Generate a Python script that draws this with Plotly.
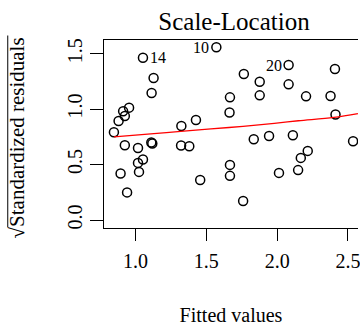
import plotly.graph_objects as go

# Data
fitted = [1.053, 1.571, 1.128, 1.114, 0.955, 0.913, 0.925, 0.881, 0.848, 1.324,
          1.427, 1.667, 1.664, 1.765, 1.877, 1.877, 2.081, 2.081, 2.204, 2.377,
          2.408, 2.412, 0.925, 1.018, 1.112, 1.119, 1.322, 1.380, 1.053, 1.018,
          1.025, 0.895, 0.941, 1.457, 1.667, 1.667, 1.835, 1.943, 2.111, 2.536,
          2.216, 2.167, 2.013, 2.148, 1.760]
sqrt_std_resid = [1.463, 1.558, 1.280, 1.145, 1.013, 0.980, 0.938, 0.893, 0.791, 0.848,
                  0.902, 1.106, 0.969, 1.316, 1.247, 1.124, 1.397, 1.223, 1.115, 1.118,
                  1.361, 0.951, 0.674, 0.650, 0.699, 0.690, 0.672, 0.665, 0.546, 0.515,
                  0.434, 0.420, 0.249, 0.360, 0.497, 0.398, 0.728, 0.758, 0.764, 0.710,
                  0.623, 0.560, 0.425, 0.450, 0.171]
smooth_x = [0.848, 1.13, 1.32, 1.66, 1.98, 2.15, 2.40, 2.57]
smooth_y = [0.749, 0.778, 0.800, 0.834, 0.872, 0.895, 0.925, 0.960]
label_idx = [0, 1, 16]
label_txt = ["14", "10", "20"]
label_side = ["right", "left", "left"]
x_ticks = [1.0, 1.5, 2.0, 2.5]
y_ticks = [0.0, 0.5, 1.0, 1.5]

FONT = "Liberation Serif"
W, H = 360, 326
L, R, T, B = 104, 0, 39.5, 98

fig = go.Figure()
fig.add_trace(go.Scatter(
    x=fitted, y=sqrt_std_resid, mode="markers",
    marker=dict(symbol="circle-open", size=9, color="black", line=dict(width=1.5, color="black")),
    hoverinfo="skip", showlegend=False))
fig.add_trace(go.Scatter(
    x=smooth_x, y=smooth_y, mode="lines", line=dict(color="red", width=1.3, shape="spline"),
    hoverinfo="skip", showlegend=False))

for i, t, side in zip(label_idx, label_txt, label_side):
    fig.add_annotation(x=fitted[i], y=sqrt_std_resid[i], text=t, showarrow=False,
                       xanchor="left" if side == "right" else "right",
                       xshift=5 if side == "right" else -5, yshift=0,
                       font=dict(family=FONT, size=16, color="black"))

pw = W - L - R
ph = H - T - B
def px_x(p):
    return (p - L) / pw
def px_y(p):
    return (H - B - p) / ph

# y-axis title (rotated) with radical
fig.add_annotation(xref="paper", yref="paper", x=px_x(16), y=px_y(137.5),
                   text="√Standardized residuals", textangle=-90, showarrow=False,
                   xanchor="center", yanchor="middle",
                   font=dict(family=FONT, size=21, color="black"))
fig.add_shape(type="line", xref="paper", yref="paper",
              x0=px_x(7), x1=px_x(7), y0=px_y(35), y1=px_y(227),
              line=dict(color="black", width=1))

fig.update_layout(
    width=W, height=H, margin=dict(l=L, r=R, t=T, b=B, pad=0),
    paper_bgcolor="white", plot_bgcolor="white",
    title=dict(text="Scale-Location", x=234 / W, xref="container", xanchor="center",
               y=1 - 21 / H, yref="container", yanchor="middle",
               font=dict(family=FONT, size=25, color="black")),
    xaxis=dict(range=[0.778, 0.778 + pw / 142.8], tickvals=x_ticks,
               ticktext=[f"{v:.1f}" for v in x_ticks],
               ticks="outside", ticklen=12, tickwidth=1, tickcolor="black",
               ticklabeloverflow="allow", ticklabelstandoff=3,
               showline=True, linecolor="black", linewidth=1, mirror=True,
               showgrid=False, zeroline=False,
               tickfont=dict(family=FONT, size=20, color="black"),
               title=dict(text="Fitted values", font=dict(family=FONT, size=20, color="black"),
                          standoff=39)),
    yaxis=dict(range=[-0.072, 1.623], tickvals=y_ticks,
               ticktext=[f"{v:.1f}" for v in y_ticks], tickangle=-90,
               ticks="outside", ticklen=13, tickwidth=1, tickcolor="black",
               showline=True, linecolor="black", linewidth=1, mirror=False,
               showgrid=False, zeroline=False,
               tickfont=dict(family=FONT, size=20, color="black")),
)
fig.write_html("out.html")
